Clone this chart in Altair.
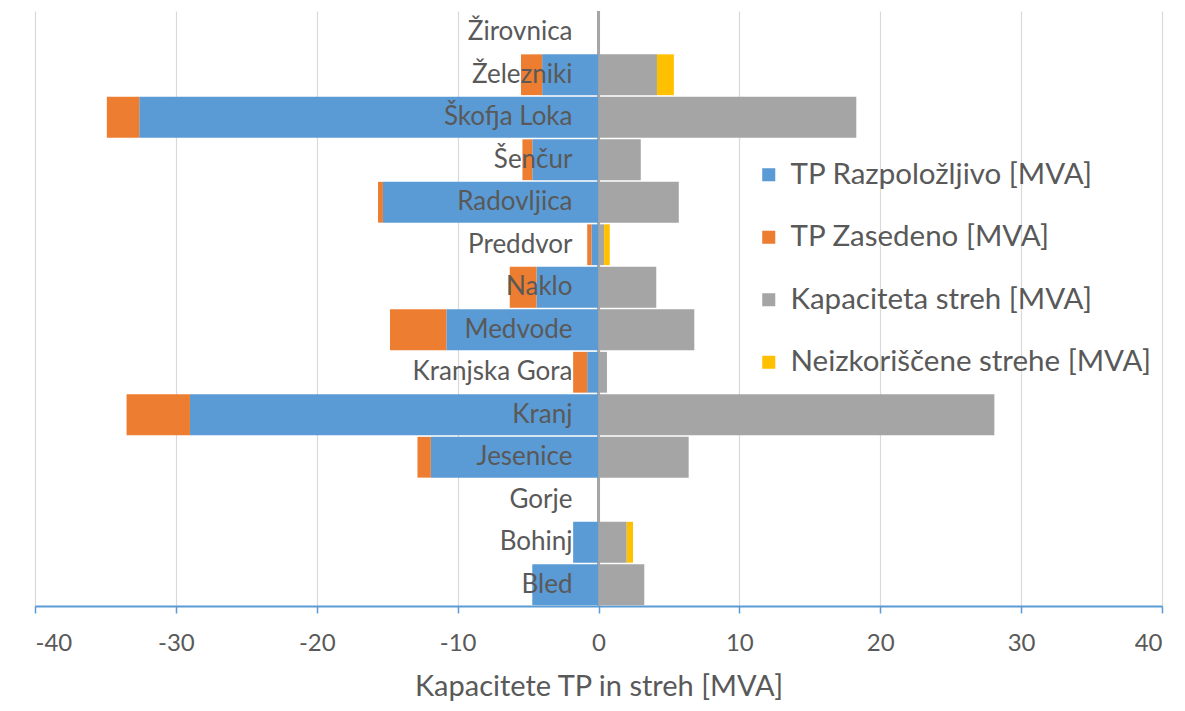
import altair as alt
import pandas as pd

categories = ["Bled", "Bohinj", "Gorje", "Jesenice", "Kranj", "Kranjska Gora", "Medvode",
              "Naklo", "Preddvor", "Radovljica", "Šenčur", "Škofja Loka", "Železniki", "Žirovnica"]
tp_razpolozljivo = [4.7, 1.8, 0, 11.9, 29.0, 0.8, 10.8, 4.4, 0.5, 15.3, 4.7, 32.6, 4.0, 0]
tp_zasedeno = [0, 0, 0, 0.95, 4.5, 1.0, 4.0, 1.9, 0.3, 0.35, 0.7, 2.3, 1.5, 0]
kapaciteta_streh = [3.25, 2.0, 0, 6.4, 28.1, 0.6, 6.8, 4.1, 0.4, 5.7, 3.0, 18.3, 4.15, 0]
neizkoriscene = [0, 0.45, 0, 0, 0, 0, 0, 0, 0.4, 0, 0, 0, 1.2, 0]

series = ["TP Razpoložljivo [MVA]", "TP Zasedeno [MVA]", "Kapaciteta streh [MVA]", "Neizkoriščene strehe [MVA]"]
colors = ["#5B9BD5", "#ED7D31", "#A5A5A5", "#FFC000"]
x_ticks = [-40, -30, -20, -10, 0, 10, 20, 30, 40]

rows = []
for i, c in enumerate(categories):
    rows.append({"cat": c, "series": series[0], "value": -tp_razpolozljivo[i], "ord": 0})
    rows.append({"cat": c, "series": series[1], "value": -tp_zasedeno[i], "ord": 1})
    rows.append({"cat": c, "series": series[2], "value": kapaciteta_streh[i], "ord": 2})
    rows.append({"cat": c, "series": series[3], "value": neizkoriscene[i], "ord": 3})
df = pd.DataFrame(rows)
labels_df = pd.DataFrame({"cat": categories})

FONT = "Lato"
TXT = "#595959"
y_sort = categories[::-1]

x_scale = alt.Scale(domain=[-40, 40], nice=False, zero=False)
y_enc = alt.Y("cat:N", sort=y_sort, axis=None, scale=alt.Scale(paddingInner=0.04, paddingOuter=0.02))

zero_rule = alt.Chart(labels_df).mark_rule(color="#A6A6A6", strokeWidth=2).encode(
    x=alt.datum(0, scale=x_scale)
)

bars = alt.Chart(df).mark_bar().encode(
    x=alt.X("sum(value):Q", scale=x_scale, stack="zero",
            axis=alt.Axis(values=x_ticks, title="Kapacitete TP in streh [MVA]",
                          labelExpr="datum.value + ''",
                          grid=True, gridColor="#D9D9D9", gridWidth=1.2,
                          domainColor="#5B9BD5", domainWidth=2,
                          tickColor="#5B9BD5", tickSize=7, tickWidth=1.5,
                          labelFontSize=24, labelColor=TXT, labelFont=FONT, labelPadding=18,
                          titleFontSize=29, titleColor=TXT, titleFont=FONT, titleFontWeight="normal",
                          titlePadding=17)),
    y=y_enc,
    color=alt.Color("series:N", scale=alt.Scale(domain=series, range=colors),
                    legend=alt.Legend(title=None, orient="none", legendX=719, legendY=149,
                                      symbolType="square", symbolSize=170, symbolStrokeWidth=0,
                                      labelFontSize=29.5, labelFont=FONT, labelColor=TXT,
                                      rowPadding=31.5, labelOffset=7, labelLimit=600)),
    order=alt.Order("ord:Q"),
)

text = alt.Chart(labels_df).mark_text(align="right", baseline="middle", dx=-26,
                                      fontSize=26, font=FONT, color=TXT).encode(
    x=alt.datum(0, scale=x_scale),
    y=alt.Y("cat:N", sort=y_sort, axis=None),
    text="cat:N",
)

chart = alt.layer(zero_rule, bars, text).properties(
    width=1127, height=595,
    padding={"left": 27, "top": 3, "right": 15, "bottom": 97},
    autosize=alt.AutoSizeParams(type="none"),
).configure_view(stroke=None)

chart.save("out.html", embed_options={"renderer": "svg", "actions": False})
